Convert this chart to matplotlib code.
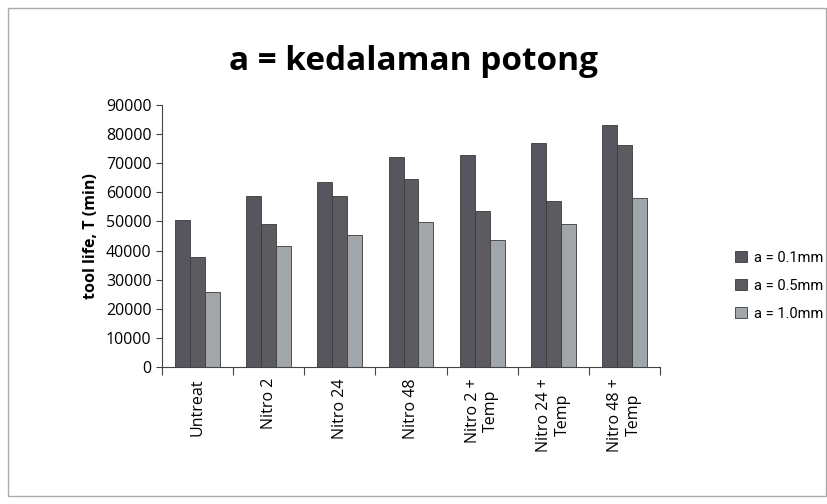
import matplotlib.pyplot as plt
import numpy as np
from matplotlib.patches import Rectangle

categories = ["Untreat", "Nitro 2", "Nitro 24", "Nitro 48",
              "Nitro 2 +\nTemp", "Nitro 24 +\nTemp", "Nitro 48 +\nTemp"]
a_01 = [50600, 58600, 63600, 72200, 72700, 77000, 83100]
a_05 = [37700, 49100, 58600, 64400, 53500, 57100, 76400]
a_10 = [25900, 41700, 45200, 49700, 43600, 49000, 58000]
series_labels = ["a = 0.1mm", "a = 0.5mm", "a = 1.0mm"]
colors = ["#56565f", "#5c5c60", "#a1a6aa"]

plt.rcParams['font.family'] = ['Open Sans', 'DejaVu Sans']

fig = plt.figure(figsize=(8.28, 5.04), dpi=100)
ax = fig.add_axes([0.1957, 0.2718, 0.6013, 0.52])

x = np.arange(len(categories))
w = 0.21
for i, (vals, lab, c) in enumerate(zip([a_01, a_05, a_10], series_labels, colors)):
    ax.bar(x + (i - 1) * w, vals, width=w, color=c, edgecolor="#3a3a3a",
           linewidth=0.6, label=lab)

ax.set_xlim(-0.5, len(categories) - 0.5)
ax.set_ylim(0, 90000)
ax.set_yticks(np.arange(0, 90001, 10000))
ax.tick_params(axis='y', labelsize=11.5, length=4, color="#444444")

# Excel style: tick marks between categories, labels at centers
ax.set_xticks(np.arange(-0.5, len(categories), 1.0))
ax.set_xticklabels([])
ax.tick_params(axis='x', which='major', length=6, color="#444444")
ax.set_xticks(x, minor=True)
ax.set_xticklabels(categories, minor=True, rotation=90, fontsize=11.5,
                   ha='center', va='top', multialignment='center')
ax.tick_params(axis='x', which='minor', length=0, pad=8)

for s in ["top", "right"]:
    ax.spines[s].set_visible(False)
for s in ["left", "bottom"]:
    ax.spines[s].set_color("#444444")

ax.set_ylabel("tool life, T (min)", fontsize=11.5, fontweight='bold', labelpad=5)

fig.text(0.5, 0.877, "a = kedalaman potong", ha='center', va='center',
         fontsize=24, fontweight='bold')

ax.legend(loc='center left', bbox_to_anchor=(1.125, 0.31), frameon=False,
          prop={'family': ['Roboto', 'DejaVu Sans'], 'size': 10.5},
          handlelength=0.8, handleheight=0.8,
          labelspacing=0.95, handletextpad=0.45)

fig.patches.append(Rectangle((0.01, 0.015), 0.987, 0.97, transform=fig.transFigure,
                             fill=False, edgecolor="#aaaaaa", linewidth=1.0))

fig.savefig("out.png", dpi=100)
